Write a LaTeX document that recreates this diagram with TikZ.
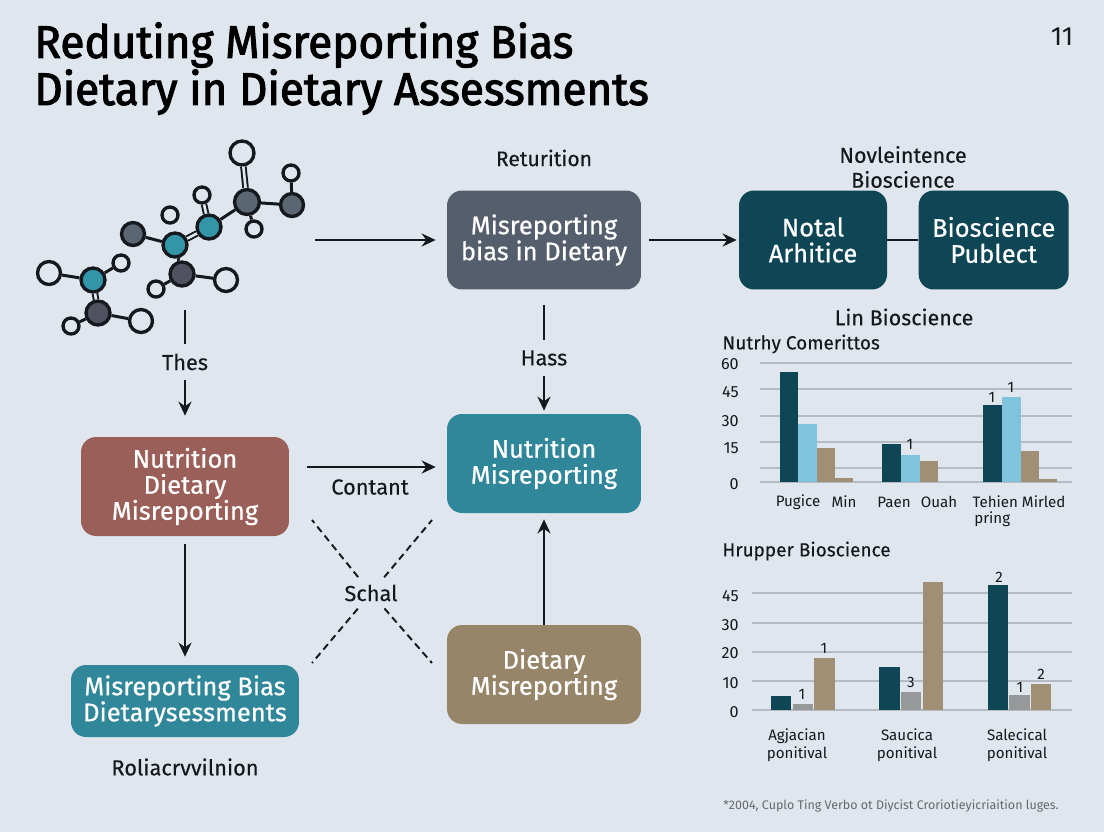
\documentclass[tikz,border=0pt]{standalone}
\usepackage{fontspec}
\setmainfont{Fira Sans}
\newfontfamily\boxfont[FakeBold=0.6]{Fira Sans}
\newfontfamily\headfont[FakeBold=0.2]{Fira Sans}
\newfontfamily\titlefont[FakeBold=2.2, FakeStretch=0.965]{Fira Sans}
\usepackage{xcolor}
\definecolor{paper}{HTML}{E0E6EE}
\definecolor{ink}{HTML}{15181C}
\definecolor{slate}{HTML}{555E6C}
\definecolor{deepteal}{HTML}{0F4655}
\definecolor{brick}{HTML}{9A5F58}
\definecolor{teal}{HTML}{2F8799}
\definecolor{khaki}{HTML}{97856A}
\definecolor{skyblue}{HTML}{7FC3DC}
\definecolor{barkhaki}{HTML}{A08F75}
\definecolor{bargrey}{HTML}{979899}
\definecolor{gridgrey}{HTML}{B4BBC3}
\definecolor{atomgrey}{HTML}{5A6672}
\definecolor{atomdark}{HTML}{50535F}
\definecolor{atomteal}{HTML}{3295A8}
\usepackage{tikz}
\usetikzlibrary{arrows.meta, positioning}

\tikzset{
  flowbox/.style={rounded corners=0.3cm, inner sep=0pt, minimum width=3.88cm, minimum height=1.98cm,
        align=center, text=white, font=\boxfont\fontsize{14.5}{14.8}\selectfont},
  flowlabel/.style={inner sep=0pt, minimum height=0.7cm, text=ink, font=\headfont\fontsize{12.4}{13}\selectfont},
  heading/.style={inner sep=0pt, text=ink, align=center, font=\headfont\fontsize{12.2}{14.2}\selectfont},
  subheading/.style={inner sep=0pt, text=ink, anchor=west, font=\headfont\fontsize{10.8}{12}\selectfont},
  axislabel/.style={inner sep=0pt, text=ink, font=\fontsize{9.2}{10}\selectfont},
  barlabel/.style={inner sep=0pt, text=ink, align=center, font=\fontsize{8.6}{10.4}\selectfont},
  conn/.style={-{Stealth[length=0.28cm, width=0.26cm]}, line width=1.4pt, ink},
  bond/.style={line width=1.7pt, ink},
  dblbond/.style={line width=1.1pt, ink, double=paper, double distance=1.5pt},
  atom/.style={circle, draw=ink, line width=1.9pt, inner sep=0pt},
  whitesmall/.style={atom, fill=paper, minimum size=0.32cm},
  whitemid/.style={atom, fill=paper, minimum size=0.46cm},
  atomg/.style={atom, fill=atomgrey, minimum size=0.46cm},
  atomd/.style={atom, fill=atomdark, minimum size=0.48cm},
  atomt/.style={atom, fill=atomteal, minimum size=0.48cm},
  gridline/.style={line width=0.7pt, gridgrey},
  crossdash/.style={line width=1.1pt, ink, dash pattern=on 4pt off 2.6pt, shorten <=0.41cm}
}

\begin{document}
\begin{tikzpicture}[>=Stealth, x=0.02cm, y=-0.02cm]

  \fill[paper] (0,0) rectangle (1104,832);
  \useasboundingbox (0,0) rectangle (1104,832);

  % title
  \node[inner sep=0pt, anchor=west, text=black, font=\titlefont\fontsize{26}{26}\selectfont] (titleA) at (34,45)
        {Reduting Misreporting Bias};
  \node[inner sep=0pt, anchor=west, text=black, font=\titlefont\fontsize{26}{26}\selectfont] (titleB) at (34,92)
        {Dietary in Dietary Assessments};
  \node[inner sep=0pt, text=ink, font=\fontsize{15}{16}\selectfont] (pagenum) at (1062,37) {11};

  % molecule
  \node[whitemid, minimum size=0.48cm] (a1) at (242,153) {};
  \node[atomg, minimum size=0.5cm] (a2) at (247,202) {};
  \node[whitesmall] (a3) at (291,173) {};
  \node[atomg] (a4) at (292,205) {};
  \node[whitesmall] (a5) at (254,229) {};
  \node[atomt] (a6) at (209,227) {};
  \node[whitesmall] (a7) at (202,195) {};
  \node[whitesmall] (a8) at (170,215) {};
  \node[atomt] (a9) at (175,245) {};
  \node[atomg] (a10) at (133,234) {};
  \node[atomd] (a11) at (182,274) {};
  \node[whitemid] (a12) at (226,280) {};
  \node[whitesmall] (a13) at (156,289) {};
  \node[atomt] (a14) at (93,280) {};
  \node[whitemid] (a15) at (49,273) {};
  \node[whitesmall] (a16) at (121,263) {};
  \node[atomd] (a17) at (98,313) {};
  \node[whitemid] (a18) at (141,321) {};
  \node[whitesmall] (a19) at (71,326) {};
  \draw[dblbond] (a1) -- (a2);
  \draw[dblbond] (a6) -- (a7);
  \draw[dblbond] (a6) -- (a9);
  \draw[dblbond] (a14) -- (a17);
  \foreach \p/\q in {a2/a4, a3/a4, a2/a5, a2/a6, a9/a10, a9/a11, a11/a12, a11/a13, a14/a15, a14/a16, a17/a18, a17/a19}
    \draw[bond] (\p) -- (\q);

  % flow boxes
  \node[flowbox, fill=slate] (bias) at (544,240) {Misreporting\\bias in Dietary};
  \node[flowbox, fill=deepteal, minimum width=2.96cm] (notal) at (813,240) {Notal\\Arhitice};
  \node[flowbox, fill=deepteal, minimum width=3cm, right=0.62cm of notal] (publect) {Bioscience\\Publect};
  \node[flowbox, fill=brick, minimum width=4.16cm] (nutdiet) at (185,486.5) {Nutrition\\Dietary\\Misreporting};
  \node[flowbox, fill=teal] (nutmis) at (544,463.5) {Nutrition\\Misreporting};
  \node[flowbox, fill=teal, minimum width=4.56cm, minimum height=1.44cm] (misbias) at (185,701)
        {Misreporting Bias\\Dietarysessments};
  \node[flowbox, fill=khaki] (dietmis) at (544,674.5) {Dietary\\Misreporting};

  % flow labels
  \node[flowlabel] (thes) at (185,362) {Thes};
  \node[flowlabel] (hass) at (544,358) {Hass};
  \node[flowlabel] (contant) at (370,487) {Contant};
  \node[flowlabel] (schal) at (371,593) {Schal};
  \node[flowlabel] (rolia) at (185,767) {Roliacrvvilnion};
  \node[flowlabel, font=\headfont\fontsize{12}{13}\selectfont] (returition) at (544,158) {Returition};
  \node[heading] (novle) at (903,167) {Novleintence\\Bioscience};

  \coordinate (molright) at (315,240);
  \coordinate (moldown) at (185,310);

  \draw[conn, shorten >=0.22cm] (molright) -- (bias);
  \draw[conn, shorten <=0.16cm, shorten >=0.04cm] (bias) -- (notal);
  \draw[line width=1.4pt, ink] (notal) -- (publect);
  \draw[line width=1.4pt, ink, shorten <=0.3cm] (bias) -- (hass);
  \draw[conn, shorten >=0.06cm] (hass) -- (nutmis);
  \draw[line width=1.4pt, ink] (moldown) -- (thes);
  \draw[conn, shorten >=0.42cm] (thes) -- (nutdiet);
  \draw[conn, shorten <=0.36cm, shorten >=0.22cm] ([yshift=-0.07cm]nutdiet.east |- nutmis.west) -- ([yshift=-0.07cm]nutmis.west);
  \draw[conn, shorten <=0.16cm, shorten >=0.16cm] (nutdiet) -- (misbias);
  \draw[conn, shorten >=0.12cm] (dietmis) -- (nutmis);

  % dashed cross
  \coordinate (crossnw) at (312,520);
  \coordinate (crossne) at (432,520);
  \coordinate (crosssw) at (312,663);
  \coordinate (crossse) at (432,663);
  \foreach \c in {crossnw, crossne, crosssw, crossse}
    \draw[crossdash] (schal.center) -- (\c);

  % upper chart
  \node[heading] (linbio) at (904,317) {Lin Bioscience};
  \node[subheading] (nutrhy) at (722,344) {Nutrhy Comerittos};
  \foreach \y in {363,389,416,442,468,482}
    \draw[gridline] (760,\y) -- (1072,\y);
  \foreach \a/\b/\t/\c in {780/798/372/deepteal, 798/817/424/skyblue, 817/835/448/barkhaki, 835/853/478/barkhaki,
                           882/901/444/deepteal, 901/920/455/skyblue, 920/938/461/barkhaki,
                           983/1002/405/deepteal, 1002/1021/397/skyblue, 1021/1039/451/barkhaki, 1039/1057/479/barkhaki}
    \fill[\c] (\a,\t) rectangle (\b,482);
  \foreach \y/\t in {364/60, 392/45, 421/30, 448/15, 484/0}
    \node[axislabel, anchor=east] (upper\t) at (739,\y) {\t};
  \node[barlabel] (upA) at (798,502) {Pugice};
  \node[barlabel] (upB) at (844,502) {Min};
  \node[barlabel] (upC) at (894,502) {Paen};
  \node[barlabel] (upD) at (939,502) {Ouah};
  \node[barlabel] (upE) at (1019,502) {Tehien Mirled};
  \node[barlabel, anchor=west] (upF) at (974,519) {pring};
  \node[barlabel] (upvalA) at (910,444) {1};
  \node[barlabel] (upvalB) at (992,397) {1};
  \node[barlabel] (upvalC) at (1011,387) {1};

  % lower chart
  \node[subheading] (hrupper) at (722,551) {Hrupper Bioscience};
  \foreach \y in {593,623,652,681,710}
    \draw[gridline] (752,\y) -- (1072,\y);
  \foreach \a/\b/\t/\c in {771/791/696/deepteal, 793/813/704/bargrey, 814/835/658/barkhaki,
                           879/900/667/deepteal, 901/921/692/bargrey, 923/943/582/barkhaki,
                           988/1008/585/deepteal, 1009/1030/695/bargrey, 1031/1051/684/barkhaki}
    \fill[\c] (\a,\t) rectangle (\b,710);
  \foreach \y/\t in {596/45, 625/30, 653/20, 683/10, 712/0}
    \node[axislabel, anchor=east] (lower\t) at (739,\y) {\t};
  \node[barlabel] (lowA) at (797,745) {Agjacian\\ponitival};
  \node[barlabel] (lowB) at (907,745) {Saucica\\ponitival};
  \node[barlabel] (lowC) at (1017,745) {Salecical\\ponitival};
  \node[barlabel] (lowvalA) at (802,694) {1};
  \node[barlabel] (lowvalB) at (824,648) {1};
  \node[barlabel] (lowvalC) at (911,682) {3};
  \node[barlabel] (lowvalD) at (999,577) {2};
  \node[barlabel] (lowvalE) at (1020,687) {1};
  \node[barlabel] (lowvalF) at (1041,674) {2};

  \node[inner sep=0pt, anchor=west, text=ink!65, font=\fontsize{7.1}{9}\selectfont] (footnote) at (723,806)
        {*2004, Cuplo Ting Verbo ot Diycist Croriotieyicriaition luges.};

\end{tikzpicture}
\end{document}
